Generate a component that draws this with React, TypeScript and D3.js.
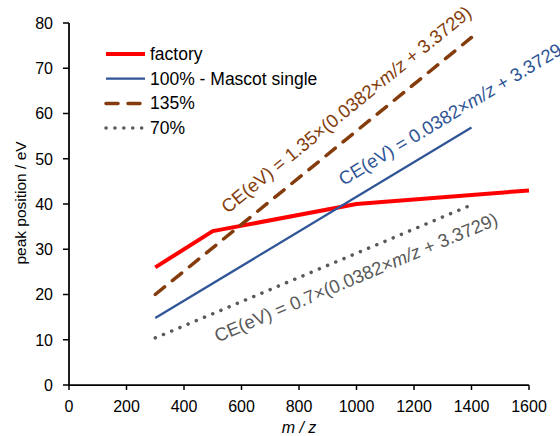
import React from "react";
import * as d3 from "d3";

const W = 560;
const H = 436;

const xTicks = [0, 200, 400, 600, 800, 1000, 1200, 1400, 1600];
const yTicks = [0, 10, 20, 30, 40, 50, 60, 70, 80];

const factoryX = [300, 500, 1000, 1600];
const factoryY = [26, 34, 40, 43];
const mascotX = [300, 1400];
const mascotY = [14.8, 56.9];
const p135X = [300, 1400];
const p135Y = [20, 76.8];
const p70X = [300, 1400];
const p70Y = [10.4, 39.8];

const legendLabels = ["factory", "100% - Mascot single", "135%", "70%"];

const FONT = "'Liberation Sans', Arial, sans-serif";

export default function App() {
  const x = d3.scaleLinear().domain([0, 1600]).range([69, 529]);
  const y = d3.scaleLinear().domain([0, 80]).range([385, 23]);
  const line = d3
    .line<[number, number]>()
    .x((d) => x(d[0]))
    .y((d) => y(d[1]));
  const zip = (a: number[], b: number[]) => a.map((v, i) => [v, b[i]] as [number, number]);

  const series = [
    { name: legendLabels[0], pts: zip(factoryX, factoryY), color: "#FF0000", width: 4, dash: undefined, cap: "butt" },
    { name: legendLabels[1], pts: zip(mascotX, mascotY), color: "#2F5597", width: 2.25, dash: undefined, cap: "butt" },
    { name: legendLabels[2], pts: zip(p135X, p135Y), color: "#843C0C", width: 3.5, dash: "12 10", cap: "round" },
    { name: legendLabels[3], pts: zip(p70X, p70Y), color: "#595959", width: 3.5, dash: "0.1 8.8", cap: "round" },
  ];

  const angle = (pts: [number, number][]) => {
    const a = pts[0];
    const b = pts[pts.length - 1];
    return (Math.atan2(y(b[1]) - y(a[1]), x(b[0]) - x(a[0])) * 180) / Math.PI;
  };

  const labels = [
    { pre: "CE(eV) = 1.35×(0.0382×", post: " + 3.3729)", color: "#843C0C", pts: series[2].pts, at: [552, 37.8] },
    { pre: "CE(eV) = 0.0382×", post: " + 3.3729", color: "#2F5597", pts: series[1].pts, at: [955, 44.0] },
    { pre: "CE(eV) = 0.7×(0.0382×", post: " + 3.3729)", color: "#595959", pts: series[3].pts, at: [517, 9.4] },
  ];

  return (
    <svg
      width={W}
      height={H}
      style={{ position: "absolute", left: 0, top: 0, background: "#fff" }}
      fontFamily={FONT}
    >
      {/* axes */}
      <line x1={x(0)} x2={x(1600)} y1={y(0)} y2={y(0)} stroke="#000" strokeWidth={1.75} />
      <line x1={x(0)} x2={x(0)} y1={y(0)} y2={y(80)} stroke="#000" strokeWidth={1.75} />
      {xTicks.map((t) => (
        <g key={"x" + t}>
          <line x1={x(t)} x2={x(t)} y1={y(0)} y2={y(0) + 5} stroke="#000" strokeWidth={1.5} />
          <text x={x(t)} y={412} textAnchor="middle" fontSize={16} fill="#000">
            {t}
          </text>
        </g>
      ))}
      {yTicks.map((t) => (
        <g key={"y" + t}>
          <line x1={x(0) - 6} x2={x(0)} y1={y(t)} y2={y(t)} stroke="#000" strokeWidth={1.5} />
          <text x={53} y={y(t) + 5.8} textAnchor="end" fontSize={16} fill="#000">
            {t}
          </text>
        </g>
      ))}
      <text x={x(800)} y={433} textAnchor="middle" fontSize={16} fontStyle="italic" fill="#000">
        m / z
      </text>
      <text
        transform={`translate(26,203) rotate(-90)`}
        textAnchor="middle"
        fontSize={15.5}
        fill="#000"
      >
        peak position / eV
      </text>

      {/* series */}
      {series.map((s) => (
        <path
          key={s.name}
          d={line(s.pts) || ""}
          fill="none"
          stroke={s.color}
          strokeWidth={s.width}
          strokeDasharray={s.dash}
          strokeLinecap={s.cap as any}
          strokeLinejoin="round"
        />
      ))}

      {/* equation labels */}
      {labels.map((l, i) => (
        <text
          key={i}
          transform={`translate(${x(l.at[0])},${y(l.at[1])}) rotate(${angle(l.pts)})`}
          fontSize={18.5}
          fill={l.color}
        >
          {l.pre}
          <tspan fontStyle="italic">m/z</tspan>
          {l.post}
        </text>
      ))}

      {/* legend */}
      {series.map((s, i) => {
        const ly = 54 + i * 24.7;
        return (
          <g key={"lg" + i}>
            <line
              x1={106}
              x2={145}
              y1={ly}
              y2={ly}
              stroke={s.color}
              strokeWidth={s.width}
              strokeDasharray={s.dash}
              strokeLinecap={s.cap as any}
            />
            <text x={150} y={ly + 6} fontSize={17.5} fill="#000">
              {s.name}
            </text>
          </g>
        );
      })}
    </svg>
  );
}
